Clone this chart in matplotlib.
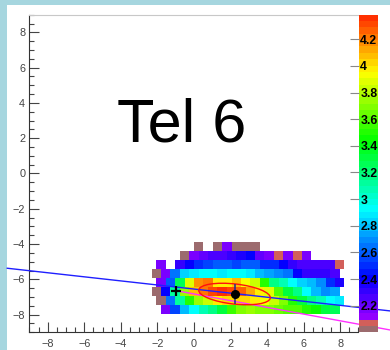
import colorsys
import numpy as np
import matplotlib
matplotlib.use("Agg")
import matplotlib.pyplot as plt
from matplotlib.colors import ListedColormap, Normalize
from matplotlib.patches import Ellipse, Rectangle
from matplotlib.ticker import MultipleLocator

plt.rcParams["font.family"] = ["Liberation Sans", "DejaVu Sans"]

# camera histogram: 35 x 35 bins over [-9, 9]; odd rows shifted half a bin
n_bins = 35
lo, hi = -9.0, 9.0
z_min, z_max = 2.0, 4.385

# y bin index, first half-bin column, cell values (None = empty)
row_index = [9, 8, 7, 6, 5, 4, 3, 2]
row_start = [35, 32, 27, 26, 27, 26, 27, 28]
row_values = [
    [2.02, None, 2.02, 2.16, 2.02, 2.02, 2.02],
    [2.02, 2.16, 2.22, 2.27, 2.28, 2.31, 2.38, 2.40, 2.20, 2.18, 2.06, 2.16,
     2.06, 2.16],
    [2.16, None, 2.30, 2.40, 2.50, 2.55, 2.58, 2.60, 2.57, 2.60, 2.60, 2.50,
     2.48, 2.42, 2.30, 2.28, 2.28, 2.27, 2.24, 2.06],
    [2.02, 2.16, 2.66, 2.84, 2.90, 2.93, 2.95, 2.88, 2.93, 2.93, 2.88, 2.80,
     2.72, 2.70, 2.64, 2.42, 2.33, 2.32, 2.30, 2.24],
    [2.16, 2.60, 3.25, 3.90, 4.15, 4.20, 4.00, 4.00, 4.08, 3.95, 3.82, 3.50,
     3.18, 3.05, 2.93, 2.85, 2.80, 2.70, 2.50, 2.35],
    [2.02, 2.40, 3.12, 3.75, 4.08, 4.20, 4.30, 4.35, 4.32, 4.25, 4.13, 4.00,
     3.88, 3.62, 3.30, 3.18, 2.93, 2.80, 2.68, 2.76],
    [2.02, 2.66, 3.12, 3.50, 3.75, 3.85, 4.00, 4.03, 4.03, 4.03, 4.00, 3.93,
     3.82, 3.70, 3.50, 3.30, 3.18, 3.05, 2.93, 2.88],
    [2.16, 2.55, 2.80, 2.93, 3.05, 3.18, 3.30, 3.57, 3.69, 3.72, 3.69, 3.68,
     3.64, 3.60, 3.60, 3.50, 3.45, 3.30, 3.25],
]

# Hillas parameters
centroid_x, centroid_y = 2.22, -6.83
centroid_err = 0.58
ellipse_length, ellipse_width, ellipse_angle = 1.97, 0.57, -6.6
axis_x = [-10.21, 11.0]
axis_y = [-5.37, -7.82]
source_x, source_y = -0.98, -6.64
disp_x = [-0.98, 11.0]
disp_y = [-6.64, -8.92]

cbar_ticks = [2.2, 2.4, 2.6, 2.8, 3.0, 3.2, 3.4, 3.6, 3.8, 4.0, 4.2]
cbar_labels = ["2.2", "2.4", "2.6", "2.8", "3", "3.2", "3.4", "3.6", "3.8",
               "4", "4.2"]

# ROOT style palette, 50 levels
colors = ["#9c6b6e", "#d25f5a"]
for i in range(2, 50):
    colors.append(colorsys.hls_to_rgb((280 - (i - 1) * 5.6) / 360, 0.5, 1.0))
cmap = ListedColormap(colors)
norm = Normalize(z_min, z_max)

bin_w = (hi - lo) / n_bins
x_edges = lo + np.arange(2 * n_bins + 1) * bin_w / 2
y_edges = lo + np.arange(n_bins + 1) * bin_w
z = np.full((n_bins, 2 * n_bins), np.nan)
for j, start, vals in zip(row_index, row_start, row_values):
    for n, v in enumerate(vals):
        if v is not None:
            z[j, start + 2 * n:start + 2 * n + 2] = v

fig = plt.figure(figsize=(3.9, 3.5), dpi=100, facecolor="#a6d6df")
fig.add_artist(Rectangle((0.018, 0), 0.982, 0.986, transform=fig.transFigure,
                         facecolor="white", edgecolor="none", zorder=-1))
ax = fig.add_axes([0.0754, 0.0506, 0.8438, 0.9074])
cax = fig.add_axes([0.9205, 0.0506, 0.048, 0.9074])

mesh = ax.pcolormesh(x_edges, y_edges, np.ma.masked_invalid(z), cmap=cmap,
                     norm=norm, edgecolors="none", antialiased=False)

ax.plot(axis_x, axis_y, color="#1f1fff", lw=1.0, clip_on=False, zorder=3)
ax.plot(disp_x, disp_y, color="#ff30ff", lw=1.0, clip_on=False, zorder=3)
ax.add_patch(Ellipse((centroid_x, centroid_y), 2 * ellipse_length,
                     2 * ellipse_width, angle=ellipse_angle, fill=False,
                     edgecolor="#ff1010", lw=1.0, zorder=4))
ax.errorbar(centroid_x, centroid_y, yerr=centroid_err, fmt="o", color="black",
            ms=5.5, ecolor="#303090", elinewidth=1.2, capsize=0, zorder=5)
ax.plot(source_x, source_y, marker="+", color="black", ms=7, mew=1.6,
        zorder=5)

ax.text(-4.2, 1.8, "Tel 6", fontsize=44, ha="left", va="baseline")

ax.set_xlim(lo, hi)
ax.set_ylim(lo, hi)
ax.xaxis.set_major_locator(MultipleLocator(2))
ax.yaxis.set_major_locator(MultipleLocator(2))
ax.xaxis.set_minor_locator(MultipleLocator(0.5))
ax.yaxis.set_minor_locator(MultipleLocator(0.5))
ax.tick_params(which="both", direction="in", top=False, right=False,
               color="#444444", width=0.8, labelsize=7.8, labelcolor="#444444")
ax.tick_params(which="major", length=7)
ax.tick_params(which="minor", length=3.5)
ax.tick_params(axis="x", pad=5)
ax.tick_params(axis="y", pad=3)
ax.spines["top"].set_color("#c8c8c8")
ax.spines["right"].set_visible(False)
for side in ["left", "bottom"]:
    ax.spines[side].set_color("#333333")

cbar = fig.colorbar(mesh, cax=cax)
cbar.outline.set_visible(False)
cbar.set_ticks(cbar_ticks, labels=cbar_labels)
cbar.ax.minorticks_off()
cax.tick_params(axis="y", left=True, right=False, labelleft=False,
                labelright=True, direction="out", length=6.5, width=0.8,
                color="#888888", labelcolor="black", labelsize=8.8, pad=-19)
for label in cax.get_yticklabels():
    label.set_fontweight("bold")

fig.savefig("out.png", dpi=100, facecolor=fig.get_facecolor())
